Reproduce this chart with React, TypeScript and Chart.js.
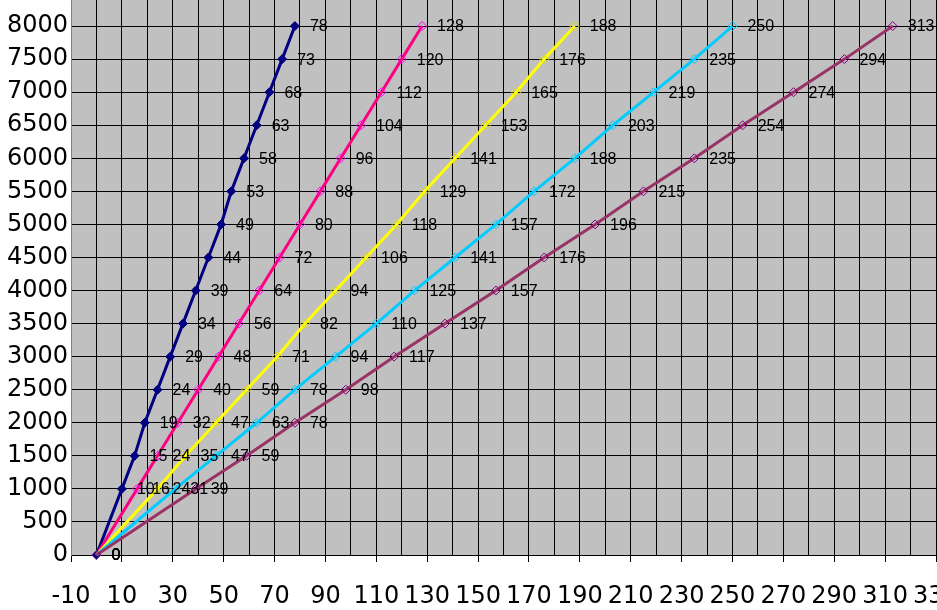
import React, { useEffect, useRef } from "react";
import { Chart, registerables } from "chart.js";

Chart.register(...registerables);

// Shared y values (rpm-like) for every series
const yValues = [0, 1000, 1500, 2000, 2500, 3000, 3500, 4000, 4500, 5000, 5500, 6000, 6500, 7000, 7500, 8000];

// x values per series
const navyX = [0, 10, 15, 19, 24, 29, 34, 39, 44, 49, 53, 58, 63, 68, 73, 78];
const pinkX = [0, 16, 24, 32, 40, 48, 56, 64, 72, 80, 88, 96, 104, 112, 120, 128];
const yellowX = [0, 24, 35, 47, 59, 71, 82, 94, 106, 118, 129, 141, 153, 165, 176, 188];
const cyanX = [0, 31, 47, 63, 78, 94, 110, 125, 141, 157, 172, 188, 203, 219, 235, 250];
const purpleX = [0, 39, 59, 78, 98, 117, 137, 157, 176, 196, 215, 235, 254, 274, 294, 313];

const seriesNames = ["Series 1", "Series 2", "Series 3", "Series 4", "Series 5"];

const xMin = -10;
const xMax = 330;
const xStep = 10;
const xLabelEvery = 20;
const yMin = 0;
const yMax = 8500;
const yStep = 500;

const CANVAS_W = 980;
const CANVAS_H = 650;
const CANVAS_TOP = -30;

export default function App() {
  const ref = useRef<HTMLCanvasElement>(null);

  useEffect(() => {
    const canvas = ref.current;
    if (!canvas) return;

    const plotBg = {
      id: "plotBg",
      beforeDraw(chart: any) {
        const { ctx, chartArea: a } = chart;
        ctx.save();
        ctx.fillStyle = "#C0C0C0";
        ctx.fillRect(a.left, a.top, a.right - a.left, a.bottom - a.top);
        ctx.restore();
      },
    };

    const pointLabels = {
      id: "pointLabels",
      afterDatasetsDraw(chart: any) {
        const { ctx } = chart;
        ctx.save();
        ctx.font = "16px 'Liberation Sans', Arial, sans-serif";
        ctx.fillStyle = "#000";
        ctx.textAlign = "left";
        ctx.textBaseline = "middle";
        chart.data.datasets.forEach((ds: any, i: number) => {
          const meta = chart.getDatasetMeta(i);
          meta.data.forEach((pt: any, j: number) => {
            const v = ds.data[j].x;
            ctx.fillText(String(Math.round(v)), pt.x + 15, pt.y + 1);
          });
        });
        ctx.restore();
      },
    };

    const mk = (xs: number[]) => xs.map((x, i) => ({ x, y: yValues[i] }));

    const styles = [
      { line: "#000080", marker: "#000080", fill: "#000080" },
      { line: "#FF0080", marker: "#FF00FF", fill: "rgba(0,0,0,0)" },
      { line: "#FFFF00", marker: "#E0E000", fill: "rgba(0,0,0,0)" },
      { line: "#00CCFF", marker: "#00CCFF", fill: "rgba(0,0,0,0)" },
      { line: "#993366", marker: "#800080", fill: "rgba(0,0,0,0)" },
    ];
    const allX = [navyX, pinkX, yellowX, cyanX, purpleX];

    const datasets = allX.map((xs, i) => ({
      label: seriesNames[i],
      data: mk(xs),
      showLine: true,
      borderColor: styles[i].line,
      borderWidth: 3,
      backgroundColor: styles[i].fill,
      pointStyle: "rectRot",
      pointRadius: 4.5,
      pointBorderWidth: 1,
      pointBorderColor: styles[i].marker,
      pointBackgroundColor: styles[i].fill,
      order: allX.length - i,
      clip: false,
    }));

    const chart = new Chart(canvas, {
      type: "scatter",
      data: { datasets } as any,
      options: {
        animation: false,
        responsive: false,
        devicePixelRatio: 1,
        layout: { padding: { left: 0, right: CANVAS_W - 936, top: 23, bottom: 0 } },
        plugins: { legend: { display: false }, tooltip: { enabled: false } },
        scales: {
          x: {
            type: "linear",
            min: xMin,
            max: xMax,
            afterFit(scale: any) {
              scale.height = 65;
              scale.paddingLeft = 0;
              scale.paddingRight = 0;
            },
            ticks: {
              stepSize: xStep,
              autoSkip: false,
              maxRotation: 0,
              minRotation: 0,
              padding: 20,
              color: "#000",
              font: { family: "'DejaVu Sans', sans-serif", size: 24 },
              callback: (v: any) => {
                const n = Math.round(Number(v));
                return (n - xMin) % xLabelEvery === 0 ? String(n) : "";
              },
            },
            grid: {
              color: (c: any) => (c.tick && Math.round(c.tick.value) === xMin ? "#808080" : "#000"),
              lineWidth: 1,
              drawTicks: true,
              tickLength: 7,
              tickColor: (c: any) => {
                const n = Math.round(c.tick ? c.tick.value : 0);
                return (n - xMin) % xLabelEvery === 0 ? "#000" : "rgba(0,0,0,0)";
              },
            },
            border: { color: "#000", width: 1 },
          },
          y: {
            type: "linear",
            min: yMin,
            max: yMax,
            afterFit(scale: any) {
              scale.width = 71;
              scale.paddingTop = 0;
              scale.paddingBottom = 0;
            },
            ticks: {
              stepSize: yStep,
              padding: 3,
              color: "#000",
              font: { family: "'DejaVu Sans', sans-serif", size: 24 },
              callback: (v: any) => String(Math.round(Number(v))),
            },
            grid: { color: "#000", lineWidth: 1, drawTicks: false },
            border: { color: "#808080", width: 1 },
          },
        },
      } as any,
      plugins: [plotBg, pointLabels],
    });

    return () => chart.destroy();
  }, []);

  return (
    <div
      style={{
        position: "fixed",
        left: 0,
        top: 0,
        width: 937,
        height: 610,
        overflow: "hidden",
        background: "#fff",
      }}
    >
      <canvas
        ref={ref}
        width={CANVAS_W}
        height={CANVAS_H}
        style={{ position: "absolute", left: 0, top: CANVAS_TOP, width: CANVAS_W, height: CANVAS_H }}
      />
    </div>
  );
}
